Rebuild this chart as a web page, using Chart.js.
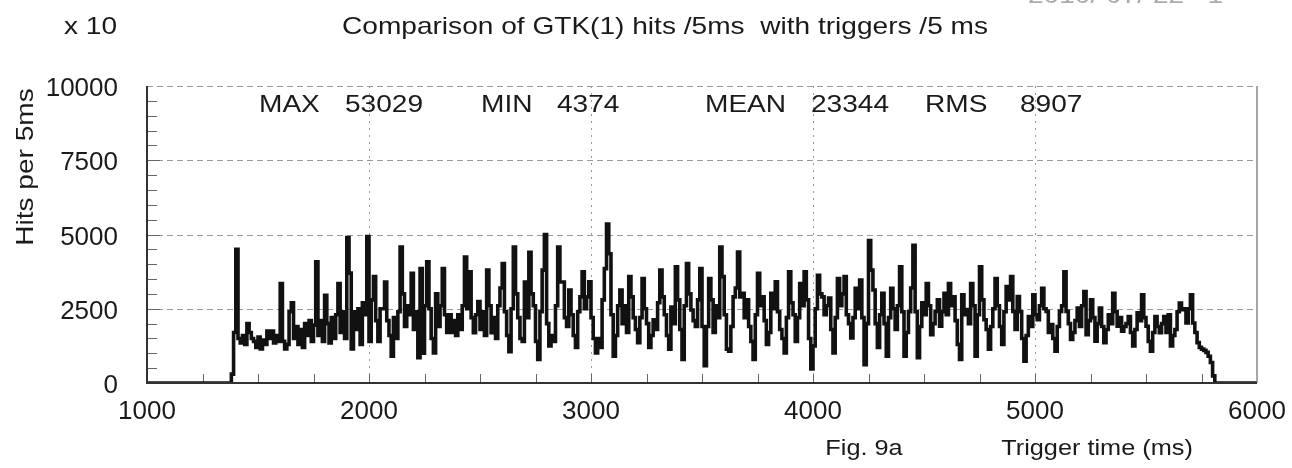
<!DOCTYPE html>
<html>
<head>
<meta charset="utf-8">
<script src="https://cdn.jsdelivr.net/npm/chart.js@4.4.1/dist/chart.umd.min.js"></script>
<style>
html, body { margin: 0; padding: 0; background: #fff; }
#wrap { width: 1292px; height: 468px; }
</style>
</head>
<body>
<div id="wrap"><canvas id="graficoHits"></canvas></div>
<script>
// ====================
// Datos (hits x10 por bin de 10 ms)
// ====================
const binStart = 1370;
const binWidth = 10;
const hits = [
    0, 300, 1700, 4500, 1500, 1350, 1600, 1300, 2000, 1700,
    1500, 1400, 1200, 1550, 1150, 1450, 1300, 1750, 1500, 1750,
    1350, 1600, 1400, 3350, 1400, 1150, 1300, 2400, 2700, 1500,
    1900, 1300, 1800, 1200, 2000, 1600, 2100, 1400, 1950, 4080,
    1600, 2100, 1400, 2950, 2000, 1350, 2200, 1500, 2300, 3350,
    1700, 2400, 1500, 4900, 3700, 1150, 2400, 1800, 2500, 1300,
    2700, 2300, 4930, 1400, 2800, 3580, 2100, 1400, 2500, 2500,
    3400, 2100, 1600, 900, 2200, 1500, 2400, 4580, 3000, 1900,
    2600, 2300, 3690, 1800, 2400, 850, 3850, 1000, 2600, 4080,
    2500, 1500, 1010, 3000, 1900, 2600, 3850, 2300, 1700, 2300,
    1700, 2100, 1600, 2300, 1800, 2600, 4240, 2500, 3740, 2200,
    1690, 2300, 2740, 1800, 2400, 1600, 3800, 2600, 1690, 2200,
    1500, 2600, 3200, 4020, 2400, 1600, 1050, 2500, 4580, 3000,
    2200, 1500, 1400, 3400, 2200, 4400, 3000, 2600, 1400, 790,
    2400, 3800, 5000, 2000, 1250, 1600, 1400, 2600, 4580, 3400,
    3400, 2200, 1900, 3130, 2300, 1600, 1200, 2400, 2900, 3740,
    2500, 2900, 3410, 2200, 1500, 1010, 1500, 1200, 2800, 3850,
    5350, 4350, 2300, 900, 1600, 2600, 3130, 2000, 2600, 1700,
    3580, 2900, 2200, 1800, 1360, 2200, 3520, 2500, 2000, 1200,
    1600, 2130, 1800, 2700, 3800, 2900, 2300, 1600, 1140, 2560,
    2000, 3910, 2800, 1800, 790, 2600, 4020, 3000, 2460, 2100,
    1900, 2800, 3850, 1900, 580, 1900, 3520, 2800, 1700, 2600,
    2200, 4580, 3580, 2300, 1140, 1070, 1900, 2900, 3200, 4410,
    2900, 3020, 2200, 2800, 1900, 1400, 790, 2300, 3690, 2600,
    2900, 2100, 1300, 1700, 3020, 2500, 3410, 2400, 1800, 1500,
    1010, 2200, 3740, 2700, 2300, 1400, 2200, 3350, 2600, 3740,
    2800, 1500, 470, 1250, 2500, 3630, 3000, 2900, 2300, 2600,
    2860, 1800, 1010, 2200, 3520, 2600, 3000, 3580, 2300, 2000,
    1520, 2200, 3190, 2500, 3470, 2200, 620, 2000, 4800, 3800,
    3130, 2000, 1200, 2300, 3020, 2000, 900, 2200, 3190, 2500,
    1800, 2600, 3910, 2400, 900, 1700, 2400, 3200, 4640, 2400,
    850, 1900, 2700, 2300, 3350, 2600, 1630, 2000, 2410, 2800,
    1910, 2400, 3020, 2300, 3350, 2600, 2900, 2100, 1300, 790,
    2970, 2300, 2470, 2000, 3350, 2600, 900, 2300, 3910, 2800,
    2130, 1800, 1140, 1900, 2500, 3520, 2600, 1900, 1300, 2400,
    3250, 2800, 3580, 2410, 1800, 2910, 2400, 1500, 730, 1600,
    2240, 1900, 2970, 2300, 2130, 2600, 3190, 2500, 2410, 1700,
    1970, 1500, 1070, 1900, 2410, 2600, 3740, 2410, 2000, 1470,
    1700, 2100, 2520, 1900, 2600, 3080, 1630, 2100, 2800, 2200,
    1410, 2000, 2520, 1900, 1360, 1800, 2300, 2000, 3020, 2400,
    1910, 2200, 1740, 1900, 2000, 2240, 1700, 1250, 1800, 2360,
    2100, 2970, 2200, 1910, 1400, 1070, 1700, 2240, 1900, 1690,
    2000, 2240, 1700, 2300, 1250, 1600, 1800, 2400, 2690, 2470,
    2500, 2020, 2500, 2970, 2020, 1700, 1360, 1200, 1140, 1100,
    1030, 900, 690, 240, 0
];
const xMin = 1000;
const xMax = 6000;
const xTicks = [1000, 2000, 3000, 4000, 5000, 6000];
const yTicks = [0, 2500, 5000, 7500, 10000];
const statNames = ["MAX", "MIN", "MEAN", "RMS"];
const statValues = ["53029", "4374", "23344", "8907"];

const puntos = [{ x: xMin, y: 0 }]
    .concat(hits.map((v, i) => ({ x: binStart + i * binWidth, y: v })))
    .concat([{ x: xMax, y: 0 }]);

const FUENTE = '"Liberation Sans", Arial, Helvetica, sans-serif';

function texto(ctx, s, x, y, size, align, k, color) {
    ctx.save();
    ctx.font = size + "px " + FUENTE;
    ctx.textAlign = align;
    ctx.textBaseline = "middle";
    ctx.fillStyle = color || "#1a1a1a";
    ctx.translate(x, y);
    ctx.scale(k, 1);
    ctx.fillText(s, 0, 0);
    ctx.restore();
}

// rejilla, marcas y marco
const rejilla = {
    id: "rejilla",
    beforeDatasetsDraw(chart) {
        const { ctx, chartArea: a, scales: { x, y } } = chart;
        ctx.save();
        ctx.lineWidth = 1;
        ctx.strokeStyle = "#9a9a9a";
        ctx.setLineDash([6, 4]);
        yTicks.slice(1).forEach(v => {
            const py = Math.round(y.getPixelForValue(v)) + 0.5;
            ctx.beginPath(); ctx.moveTo(a.left, py); ctx.lineTo(a.right, py); ctx.stroke();
        });
        ctx.setLineDash([2, 5]);
        xTicks.slice(1, -1).forEach(v => {
            const px = Math.round(x.getPixelForValue(v)) + 0.5;
            ctx.beginPath(); ctx.moveTo(px, a.top); ctx.lineTo(px, a.bottom); ctx.stroke();
        });
        ctx.setLineDash([]);
        ctx.strokeStyle = "#666";
        for (let v = 500; v < 10000; v += 500) {
            const py = Math.round(y.getPixelForValue(v)) + 0.5;
            ctx.beginPath(); ctx.moveTo(a.left, py); ctx.lineTo(a.left + (v % 2500 ? 10 : 13), py); ctx.stroke();
        }
        for (let v = 1250; v < 6000; v += 250) {
            const px = Math.round(x.getPixelForValue(v)) + 0.5;
            ctx.beginPath(); ctx.moveTo(px, a.bottom); ctx.lineTo(px, a.bottom - 9); ctx.stroke();
        }
        ctx.restore();
    },
    afterDatasetsDraw(chart) {
        const { ctx, chartArea: a } = chart;
        ctx.save();
        ctx.strokeStyle = "#888";
        ctx.lineWidth = 1.5;
        ctx.beginPath(); ctx.moveTo(a.right, a.top); ctx.lineTo(a.right, a.bottom); ctx.stroke();
        ctx.strokeStyle = "#333";
        ctx.lineWidth = 2;
        ctx.beginPath(); ctx.moveTo(a.left, a.top); ctx.lineTo(a.left, a.bottom); ctx.lineTo(a.right, a.bottom); ctx.stroke();
        ctx.restore();
    }
};

// textos
const rotulos = {
    id: "rotulos",
    afterDraw(chart) {
        const ctx = chart.ctx;
        texto(ctx, "2010/ 07/ 22   1", 1028, -4, 24, "left", 1.17, "#aaa");
        texto(ctx, "x 10", 117, 27, 24, "right", 1.17);
        texto(ctx, "Comparison of GTK(1) hits /5ms  with triggers /5 ms", 665, 27, 24, "center", 1.17);
        const posN = [259, 481, 705, 925];
        const posV = [345, 557, 811, 1020];
        statNames.forEach((s, i) => {
            texto(ctx, s, posN[i], 105, 24, "left", 1.17);
            texto(ctx, statValues[i], posV[i], 105, 24, "left", 1.17);
        });
        texto(ctx, "Fig. 9a", 864, 449, 22, "center", 1.15);
        texto(ctx, "Trigger time (ms)", 1097, 449, 22, "center", 1.15);
        ctx.save();
        ctx.translate(26, 167);
        ctx.rotate(-Math.PI / 2);
        texto(ctx, "Hits per 5ms", 0, 0, 24, "center", 1.17);
        ctx.restore();
    }
};

const ctxHits = document.getElementById("graficoHits");
new Chart(ctxHits, {
    type: "line",
    data: {
        datasets: [{
            label: "GTK(1) hits /5ms",
            data: puntos,
            borderColor: "#111",
            borderWidth: 3.6,
            pointRadius: 0,
            stepped: true,
            fill: false
        }]
    },
    options: {
        responsive: true,
        maintainAspectRatio: false,
        animation: false,
        layout: { padding: { top: 86, right: 35, left: 0, bottom: 0 } },
        plugins: {
            legend: { display: false },
            tooltip: { enabled: false },
            title: { display: false }
        },
        scales: {
            x: {
                type: "linear",
                min: xMin,
                max: xMax,
                afterBuildTicks: s => { s.ticks = xTicks.map(v => ({ value: v })); },
                afterFit: s => { s.height = 85; s.paddingLeft = 0; s.paddingRight = 0; },
                grid: { display: false, drawTicks: false },
                border: { display: false },
                ticks: {
                    padding: 13,
                    maxRotation: 0,
                    color: "#1a1a1a",
                    font: { family: FUENTE, size: 26 },
                    callback: v => String(v)
                }
            },
            y: {
                min: 0,
                max: 10000,
                afterBuildTicks: s => { s.ticks = yTicks.map(v => ({ value: v })); },
                afterFit: s => { s.width = 147; s.paddingTop = 0; s.paddingBottom = 0; },
                grid: { display: false, drawTicks: false },
                border: { display: false },
                ticks: {
                    padding: 29,
                    labelOffset: 3,
                    color: "#1a1a1a",
                    font: { family: FUENTE, size: 26 },
                    callback: v => String(v)
                }
            }
        }
    },
    plugins: [rejilla, rotulos]
});
</script>
</body>
</html>
